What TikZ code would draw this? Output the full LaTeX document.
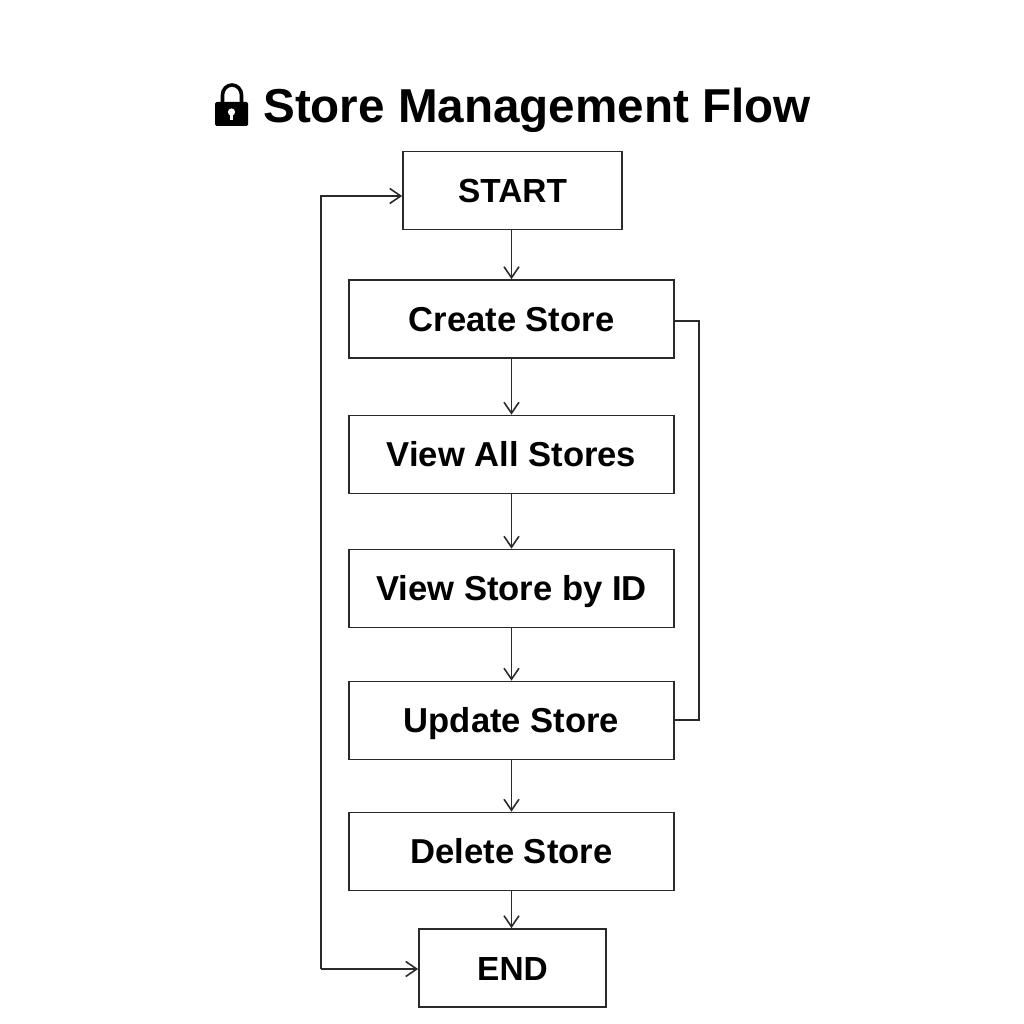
\documentclass[tikz,border=0pt]{standalone}
\usepackage{fontspec}
\setmainfont{Liberation Sans}
\usetikzlibrary{arrows.meta}
\definecolor{ink}{HTML}{2A2A2A}
\tikzset{
  x=1pt,y=-1pt,
  flowbox/.style={draw=ink,line width=1.7pt,fill=white,minimum height=78pt,inner sep=0pt,text=black,text height=24pt,text depth=0pt,font=\fontsize{34.6}{36}\selectfont\bfseries},
  wide/.style={flowbox,minimum width=325pt},
  narrow/.style={flowbox,font=\fontsize{33.4}{36}\selectfont\bfseries},
  link/.style={draw=ink,line width=1.7pt,-{Straight Barb[length=11pt,width=15pt,line width=1.6pt]}},
  plain/.style={draw=ink,line width=1.7pt},
}
\begin{document}
\begin{tikzpicture}
\useasboundingbox (0,0) rectangle (1024,1024);
% title and padlock
\node[font=\fontsize{47.6}{50}\selectfont\bfseries,inner sep=0pt,anchor=center] (title) at (537,110) {Store Management Flow};
\draw[black,line width=3.6pt] (222.5,104) -- (222.5,95) arc[start angle=180,end angle=0,x radius=9.5,y radius=-10] -- (241.5,104);
\fill[black,rounded corners=1.5pt] (215,102) rectangle (248,126);
\fill[white] (231.5,112) circle[radius=3.6];
\fill[white] (230.2,112) rectangle (232.8,120);
% boxes
\node[narrow,minimum width=219pt] (start) at (512.5,190.5) {START};
\node[wide] (create) at (511.5,319) {Create Store};
\node[wide] (viewall) at (511.5,454.5) {View All Stores};
\node[wide] (viewid) at (511.5,588.5) {View Store by ID};
\node[wide] (update) at (511.5,720.5) {Update Store};
\node[wide] (delete) at (511.5,851.5) {Delete Store};
\node[narrow,minimum width=187pt] (end) at (512.5,968) {END};
% corners
\coordinate (lt) at (321,196);
\coordinate (lb) at (321,969);
\coordinate (rt) at (699,321);
\coordinate (rb) at (699,720);
% links
\draw[link] (create.north |- start.south) -- (create.north);
\draw[link] (create.south) -- (viewall.north);
\draw[link] (viewall.south) -- (viewid.north);
\draw[link] (viewid.south) -- (update.north);
\draw[link] (update.south) -- (delete.north);
\draw[link] (delete.south) -- (delete.south |- end.north);
\draw[link] (lb) -- (lt) -- (start.west |- lt);
\draw[link] (lb) -- (end.west |- lb);
\draw[plain] (create.east |- rt) -- (rt) -- (rb) -- (update.east |- rb);
\end{tikzpicture}
\end{document}
